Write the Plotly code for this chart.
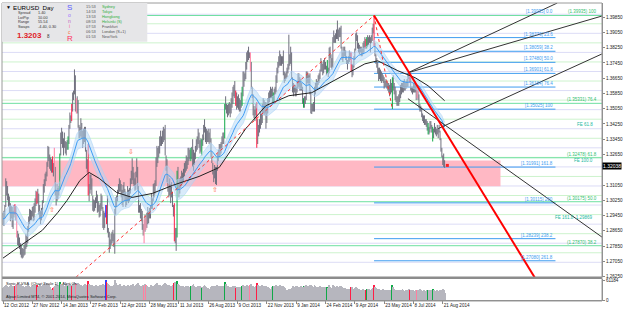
import plotly.graph_objects as go
import pandas as pd

# ---------------- data (prices in pips: 3075 -> 1.3075) ----------------
highs_pips = [
    # Oct 2012
    2960,2970,3000,3140,3125,3100,3060,3045,3010,2995,2990,2970,3000,3005,
    # Nov 2012
    2995,2960,2865,2850,2830,2800,2790,2775,2770,2790,2800,2850,2840,2890,2940,2980,2975,2970,2990,2995,3010,3035,
    # Dec 2012
    3075,3070,3085,3060,3000,2970,2985,3025,3110,3135,3165,3175,3225,3310,3305,3265,3250,3240,3255,3220,
    # Jan 2013
    3300,3200,3080,3110,3090,3100,3270,3380,3405,3385,3350,3380,3335,3330,3340,3360,3420,3485,3470,3530,3590,3600,
    # Feb 2013
    3711,3680,3560,3570,3550,3420,3410,3455,3430,3390,3400,3410,3410,3290,3240,3320,3110,3160,3160,3140,
    # Mar 2013
    3050,3030,3025,3040,3075,3055,3020,3000,3010,3060,3050,2990,2970,2960,3000,3000,3050,2880,2860,2820,2850,
    # Apr 2013
    2860,2870,2850,2980,3040,3050,3080,3110,3140,3130,3110,3080,3105,3120,3085,3070,3050,3100,3080,3090,3140,3180,
    # May 2013
    3245,3200,3170,3140,3175,3245,3200,3100,3000,3010,2980,2970,2900,2925,2950,2935,2960,2990,2970,2985,3000,3060,3035,
    # Jun 2013
    3110,3115,3130,3250,3310,3300,3310,3360,3390,3360,3390,3410,3400,3420,3260,3240,3160,3100,3140,3110,
    # Jul 2013
    3120,3070,3000,3010,2880,2880,3180,3200,3110,3140,3150,3180,3170,3190,3220,3230,3260,3250,3300,3300,3290,3300,3305,
    # Aug 2013
    3345,3290,3275,3310,3345,3360,3400,3380,3340,3350,3345,3370,3420,3450,3410,3400,3390,3400,3380,3400,3350,3280,
    # Sep 2013
    3220,3180,3210,3200,3200,3270,3290,3320,3320,3330,3360,3380,3380,3530,3570,3530,3525,3530,3540,3530,3560,
    # Oct 2013
    3590,3620,3630,3650,3600,3590,3570,3580,3560,3550,3590,3620,3700,3700,3690,3750,3800,3810,3830,3800,3800,3750,3620,
    # Nov 2013
    3580,3520,3500,3530,3540,3450,3420,3450,3490,3480,3530,3560,3550,3540,3540,3510,3560,3590,3600,3620,3610,
    # Dec 2013
    3620,3590,3610,3620,3680,3720,3750,3780,3810,3790,3780,3780,3810,3700,3690,3700,3720,3740,3893,3790,3830,
    # Jan 2014
    3800,3670,3640,3630,3630,3620,3650,3690,3690,3670,3660,3640,3620,3560,3570,3570,3700,3700,3690,3680,3690,3600,
    # Feb 2014
    3530,3530,3540,3620,3640,3660,3650,3680,3690,3710,3770,3750,3740,3760,3770,3750,3730,3760,3720,3825,
    # Mar 2014
    3830,3790,3770,3880,3915,3890,3900,3920,3967,3920,3930,3930,3940,3830,3800,3830,3830,3810,3780,3760,3780,
    # Apr 2014
    3810,3800,3800,3740,3740,3780,3820,3900,3905,3890,3850,3840,3830,3830,3820,3850,3860,3880,3870,3880,3890,3880,
    # May 2014
    3890,3880,3890,3930,3950,3993,3850,3790,3770,3750,3720,3720,3710,3700,3690,3680,3670,3650,3660,3650,3640,3640,
    # Jun 2014
    3630,3660,3640,3670,3680,3640,3620,3600,3570,3570,3580,3600,3630,3640,3640,3650,3660,3640,3650,3660,3690,
    # Jul 2014
    3700,3690,3670,3620,3620,3640,3640,3650,3630,3620,3610,3580,3530,3520,3510,3480,3470,3470,3450,3450,3440,3430,3410,
    # Aug 2014
    3440,3440,3420,3410,3400,3430,3410,3400,3420,3400,3420,3390,3350,3300,3260,3270,3235,
]
lows_pips = [
    2895,2890,2930,2990,3050,3025,2990,2960,2915,2930,2885,2875,2935,2950,
    2920,2830,2790,2785,2770,2740,2725,2720,2725,2735,2740,2770,2780,2800,2860,2900,2920,2920,2940,2915,2920,2960,
    2995,3005,3010,2950,2925,2900,2920,2945,3010,3065,3100,3125,3150,3200,3230,3190,3180,3170,3170,3150,
    3180,3050,2998,3020,3030,3050,3080,3260,3320,3300,3260,3300,3270,3260,3290,3290,3320,3400,3430,3440,3490,3550,
    3580,3490,3480,3480,3405,3350,3350,3360,3350,3300,3320,3330,3280,3190,3170,3050,3020,3060,3080,3050,
    2970,2965,2970,2985,3010,2960,2965,2935,2940,2970,2980,2880,2870,2880,2935,2900,2855,2830,2750,2770,2790,
    2800,2810,2780,2745,2950,2990,3020,3060,3070,3070,3040,3000,2990,3045,3020,2990,3000,3020,3010,3020,3060,3110,
    3130,3110,3100,3075,3080,3145,3080,2960,2960,2930,2915,2870,2840,2800,2860,2870,2880,2900,2905,2930,2930,2980,2980,
    3020,3040,3060,3100,3200,3220,3250,3270,3310,3310,3320,3330,3340,3260,3180,3120,3070,3040,3050,3010,
    3040,2990,2940,2810,2800,2760,2830,3080,3040,3060,3090,3100,3110,3120,3150,3170,3180,3190,3210,3230,3240,3230,3240,
    3200,3180,3210,3240,3280,3290,3320,3300,3270,3280,3260,3310,3340,3380,3330,3320,3330,3330,3320,3330,3250,3220,
    3160,3120,3140,3110,3105,3180,3230,3250,3260,3270,3290,3320,3320,3350,3500,3480,3460,3470,3480,3460,3480,
    3510,3530,3570,3560,3520,3500,3510,3500,3490,3490,3510,3520,3570,3620,3650,3660,3710,3750,3760,3770,3700,3610,3560,
    3470,3455,3440,3470,3300,3320,3360,3380,3400,3420,3430,3480,3470,3480,3400,3430,3480,3520,3540,3560,3560,
    3530,3530,3540,3580,3590,3640,3690,3720,3730,3730,3730,3740,3680,3640,3650,3660,3670,3690,3710,3730,3740,
    3660,3590,3570,3590,3570,3570,3590,3610,3620,3600,3600,3600,3530,3510,3510,3530,3550,3640,3630,3640,3580,3480,
    3477,3490,3490,3490,3580,3610,3610,3630,3640,3660,3700,3700,3680,3690,3710,3710,3680,3690,3670,3690,
    3770,3720,3710,3720,3850,3850,3850,3870,3870,3860,3880,3880,3820,3760,3750,3770,3780,3760,3740,3710,3740,
    3750,3760,3700,3670,3680,3720,3760,3810,3860,3820,3800,3790,3800,3780,3780,3790,3800,3820,3820,3820,3830,3840,
    3850,3800,3850,3860,3900,3830,3780,3740,3720,3690,3650,3660,3650,3640,3650,3640,3610,3620,3620,3610,3600,3590,
    3570,3580,3590,3503,3600,3580,3550,3540,3520,3520,3520,3540,3560,3580,3590,3590,3600,3600,3610,3620,3620,
    3660,3640,3600,3590,3580,3590,3590,3590,3550,3560,3550,3510,3490,3490,3460,3440,3430,3420,3420,3410,3390,3370,3370,
    3380,3400,3380,3333,3350,3380,3370,3360,3370,3350,3380,3340,3280,3250,3210,3200,3195,
]
volume_k = [
    38,41,44,47,43,40,36,39,42,45,41,44,39,42,
    46,49,52,47,43,45,48,41,44,40,37,42,39,45,43,34,38,41,44,47,43,46,
    42,45,39,44,48,41,38,43,46,49,44,47,52,50,45,39,33,35,37,31,
    40,44,49,46,42,45,55,50,47,43,46,41,44,48,45,42,47,50,46,43,48,51,
    56,52,49,47,53,49,44,46,43,41,45,48,50,47,44,58,49,46,43,45,
    42,40,43,45,47,44,41,43,46,42,45,48,44,47,61,55,52,49,45,43,41,
    44,41,46,60,52,47,44,42,45,48,44,41,43,46,42,40,43,45,41,44,43,46,
    47,50,44,42,45,48,51,46,42,44,41,43,46,44,48,45,42,39,36,40,43,45,42,
    44,42,45,50,52,47,43,45,41,44,42,46,49,53,48,45,43,46,44,42,
    41,44,46,53,55,48,58,50,45,42,44,41,43,40,38,41,43,40,42,39,41,44,43,
    46,48,42,40,38,41,43,40,42,39,36,41,44,46,42,40,38,36,34,33,39,42,
    40,43,41,44,47,45,41,43,40,42,44,41,43,55,49,44,41,43,40,38,41,
    39,42,40,44,37,39,41,38,40,37,39,42,45,43,41,44,46,43,42,41,45,48,44,
    43,41,40,44,52,47,42,39,41,43,45,42,44,40,43,41,39,37,33,35,38,
    40,42,44,41,45,43,41,44,46,42,40,38,43,41,37,30,27,29,33,35,31,
    36,40,43,41,39,42,44,41,38,40,42,39,41,44,40,42,46,43,41,44,47,45,
    42,39,41,46,44,40,38,41,39,42,40,37,39,41,38,36,39,41,38,45,
    40,38,37,47,43,39,41,38,44,41,40,43,42,39,37,38,36,35,34,33,35,
    34,32,40,41,35,33,36,40,38,34,32,33,30,29,31,33,32,30,31,33,35,34,
    33,31,32,34,36,47,41,37,34,32,33,35,31,30,32,33,31,30,29,28,30,31,
    30,32,31,45,40,33,30,29,31,28,30,32,31,29,33,30,28,27,29,30,31,
    33,31,30,28,29,30,28,27,29,31,30,32,34,31,28,27,29,30,28,26,29,30,31,
    32,30,29,33,31,30,28,27,29,26,28,30,31,32,34,30,20,
]
red_bars = [13, 37, 54, 75, 93, 113, 187, 254, 277, 380, 396, 405, 444]
pink_bars = [15, 56, 80, 154, 156, 270, 452]
green_bars = [62, 71, 190, 205, 217, 242, 261, 295, 328, 354, 397, 425, 464, 469]
blue_bars = [112]

date_tick_labels = ["12 Oct 2012", "27 Nov 2012", "14 Jan 2013", "27 Feb 2013", "12 Apr 2013",
                    "28 May 2013", "11 Jul 2013", "26 Aug 2013", "9 Oct 2013", "22 Nov 2013",
                    "9 Jan 2014", "24 Feb 2014", "9 Apr 2014", "23 May 2014", "8 Jul 2014", "21 Aug 2014"]
bars_per_label = 32

price_tick_labels = ["1.39850", "1.39050", "1.38250", "1.37450", "1.36650", "1.35850", "1.35050",
                     "1.34250", "1.33450", "1.32650", "1.31050", "1.30250", "1.29450",
                     "1.28650", "1.27850", "1.27050", "1.26250"]

round_levels = [1.27, 1.28, 1.29, 1.30, 1.31, 1.32, 1.33, 1.34, 1.35, 1.36, 1.37, 1.38, 1.39, 1.40]
half_levels = [1.2750, 1.2850, 1.2950, 1.3050, 1.3150, 1.3250, 1.3350, 1.3450, 1.3550, 1.3650,
               1.3750, 1.3850, 1.3950]

# long moving average
ma_bar = [0, 24, 43, 60, 70, 84, 94, 105, 124, 141, 163, 185, 214, 236, 265, 287, 312, 337, 355,
          374, 395, 409, 431, 450, 464, 482]
ma_price = [1.2722, 1.2805, 1.2868, 1.2962, 1.3025, 1.3129, 1.3171, 1.3140, 1.3066, 1.3040, 1.3061,
            1.3103, 1.3150, 1.3197, 1.3401, 1.3521, 1.3573, 1.3589, 1.3636, 1.3688, 1.3740, 1.3756,
            1.3704, 1.3667, 1.3625, 1.3547]

fib_ratios = ["0.0", "23.6", "38.2", "50.0", "61.8", "76.4", "100", "161.8", "200", "238.2", "261.8"]
fib_prices = [1.39935, 1.38776, 1.38059, 1.37480, 1.36901, 1.36184, 1.35025, 1.31991, 1.30115,
              1.28239, 1.27080]
fib_start_bar, fib_end_bar, fib_label_bar = 405, 425, 603
fib2_ratios = ["100", "76.4", "61.8", "50.0", "38.2"]
fib2_prices = [1.39935, 1.35331, 1.32478, 1.30175, 1.27870]
fib2_anchor_bar, fib2_anchor_price = -58, 1.20415
fe_labels = ["FE 61.8", "FE 100.0", "FE 161.8  1.29869"]
fe_prices = [1.3406, 1.3216, 1.2915]

zone_low, zone_high, zone_end_bar = 1.3098, 1.3234, 543
current_price = 1.32038

red_line = [(405, 1.39935), (620, 1.23101)]
black_lines = [[(442, 1.36933), (605, 1.40589)],
               [(442, 1.36933), (654, 1.39910)],
               [(475, 1.34008), (654, 1.37925)],
               [(442, 1.35575), (654, 1.28315)]]
fractal_marks = [(54, 1.2972, "⇧"), (140, 1.3276, "⇩"), (231, 1.3077, "⇧")]

sessions = [("15:53", "Sydney", "#2fae3a"), ("14:53", "Tokyo", "#2fae3a"),
            ("13:53", "Hongkong", "#2fae3a"), ("08:53", "Helsinki (S)", "#2fae3a"),
            ("07:53", "Frankfurt", "#555555"), ("06:53", "London (S+1)", "#555555"),
            ("01:53", "NewYork", "#555555")]
sonic_letters = [("S", "#5a5aff", 8, 6.5), ("o", "#a070ff", 5, 14.5), ("n", "#c060c0", 5, 20),
                 ("i", "#ff60a0", 5, 25.5), ("c", "#ff7040", 5, 31), ("R", "#ff3060", 8, 37.5)]

# ---------------- derived ----------------
n = min(len(highs_pips), len(lows_pips))
highs = [1 + p / 10000 for p in highs_pips[:n]]
lows = [1 + p / 10000 for p in lows_pips[:n]]
bars = list(range(n))

# ---------------- layout geometry (pixels -> paper) ----------------
W, H = 625, 311
ML, MR, MT, MB = 2, 20, 2, 10
PW, PH = W - ML - MR, H - MT - MB


def px(x):
    return (x - ML) / PW


def py(y):
    return (H - MB - y) / PH


FONT = "Liberation Sans"
fig = go.Figure()


def seg_trace(idx_list, color):
    xs, ys = [], []
    for i in idx_list:
        if i < n:
            xs += [i, i, None]
            ys += [lows[i], highs[i], None]
    return go.Scatter(x=xs, y=ys, mode="lines", line=dict(color=color, width=1),
                      hoverinfo="skip", showlegend=False)


special = set(red_bars + pink_bars + green_bars + blue_bars)
fig.add_trace(seg_trace([i for i in bars if i not in special], "#6f6f7d"))
fig.add_trace(seg_trace(red_bars, "#ff1e46"))
fig.add_trace(seg_trace(pink_bars, "#ff7fa0"))
fig.add_trace(seg_trace(green_bars, "#10a848"))
fig.add_trace(seg_trace(blue_bars, "#3040ff"))

# Sonic R dragon (EMA 34 of high / low / median)
s_hi = pd.Series(highs).ewm(span=34, adjust=False).mean()
s_lo = pd.Series(lows).ewm(span=34, adjust=False).mean()
s_mid = pd.Series([(h + l) / 2 for h, l in zip(highs, lows)]).ewm(span=34, adjust=False).mean()
fig.add_trace(go.Scatter(x=bars, y=s_hi, mode="lines", line=dict(color="rgba(170,210,245,0.55)", width=1),
                         hoverinfo="skip", showlegend=False))
fig.add_trace(go.Scatter(x=bars, y=s_lo, mode="lines", line=dict(color="rgba(170,210,245,0.55)", width=1),
                         fill="tonexty", fillcolor="rgba(180,215,246,0.5)", hoverinfo="skip", showlegend=False))
fig.add_trace(go.Scatter(x=bars, y=s_mid, mode="lines", line=dict(color="#3d9cf5", width=1),
                         hoverinfo="skip", showlegend=False))
fig.add_trace(go.Scatter(x=ma_bar, y=ma_price, mode="lines", line=dict(color="#222222", width=1),
                         hoverinfo="skip", showlegend=False))

# current price marker
fig.add_trace(go.Scatter(x=[n + 2], y=[current_price + 0.0004], mode="markers",
                         marker=dict(color="#ff2020", size=3, symbol="square"),
                         hoverinfo="skip", showlegend=False))

# volume
vcols = []
for i in range(len(volume_k)):
    if i in red_bars:
        vcols.append("#ff1e46")
    elif i in pink_bars:
        vcols.append("#ff7fa0")
    elif i in green_bars:
        vcols.append("#10a848")
    elif i in blue_bars:
        vcols.append("#3040ff")
    else:
        vcols.append("#b6b6be")
fig.add_trace(go.Bar(x=list(range(len(volume_k))), y=[v * 1000 for v in volume_k], marker_color=vcols,
                     marker_line_width=0, width=0.95, yaxis="y2", hoverinfo="skip", showlegend=False))

shapes = []
# pink zone
shapes.append(dict(type="rect", xref="x", yref="y", x0=-2, x1=zone_end_bar, y0=zone_low, y1=zone_high,
                   fillcolor="#ffb8c4", line=dict(width=0), layer="below"))
for lv in round_levels:
    shapes.append(dict(type="line", xref="x domain", yref="y", x0=0, x1=1, y0=lv, y1=lv,
                       line=dict(color="#dcdcf6", width=1), layer="below"))
for lv in half_levels:
    shapes.append(dict(type="line", xref="x domain", yref="y", x0=0, x1=1, y0=lv, y1=lv,
                       line=dict(color="#cdf3cd", width=1), layer="below"))
for lv in fib2_prices:
    shapes.append(dict(type="line", xref="x domain", yref="y", x0=0, x1=1, y0=lv, y1=lv,
                       line=dict(color="#6ee0a0", width=1), layer="below"))
for lv in fib_prices[1:]:
    shapes.append(dict(type="line", xref="x", yref="y", x0=fib_start_bar, x1=fib_label_bar, y0=lv, y1=lv,
                       line=dict(color="#3e9cf0", width=1), layer="below"))
# fib anchor dotted lines
shapes.append(dict(type="line", xref="x", yref="y", x0=fib2_anchor_bar, y0=fib2_anchor_price,
                   x1=fib_start_bar, y1=fib_prices[0], line=dict(color="#ff3030", width=1, dash="dot")))
shapes.append(dict(type="line", xref="x", yref="y", x0=fib_start_bar, y0=fib_prices[0],
                   x1=fib_end_bar, y1=fib_prices[6], line=dict(color="#ff3030", width=1, dash="dot")))
for (a, b) in black_lines:
    shapes.append(dict(type="line", xref="x", yref="y", x0=a[0], y0=a[1], x1=b[0], y1=b[1],
                       line=dict(color="#333333", width=1)))
shapes.append(dict(type="line", xref="x", yref="y", x0=red_line[0][0], y0=red_line[0][1],
                   x1=red_line[1][0], y1=red_line[1][1], line=dict(color="#ff0000", width=2)))
# pane separator + frame
shapes.append(dict(type="rect", xref="paper", yref="paper", x0=0, x1=1, y0=py(279), y1=py(276.5),
                   fillcolor="#8c8c8c", line=dict(width=0)))
shapes.append(dict(type="rect", xref="paper", yref="paper", x0=0, x1=1, y0=0, y1=1,
                   line=dict(color="#9a9a9a", width=1)))
# info box
shapes.append(dict(type="rect", xref="paper", yref="paper", x0=px(2), x1=px(148), y0=py(41), y1=py(2),
                   fillcolor="#e6e6e8", line=dict(width=0)))

ann = []


def text(x, y, s, size, color, bold=False, anchor="left"):
    ann.append(dict(x=x, y=y, xref="paper", yref="paper",
                    text=("<b>%s</b>" % s) if bold else s, showarrow=False, xanchor=anchor, yanchor="middle",
                    font=dict(family=FONT, size=size, color=color)))


# fib labels
for r, p in zip(fib_ratios, fib_prices):
    ann.append(dict(x=fib_label_bar, y=p, xref="x", yref="y", text="[%.5f] %s" % (p, r), showarrow=False,
                    xanchor="right", yanchor="bottom", yshift=-1,
                    font=dict(family=FONT, size=4.5, color="#3e9cf0")))
for r, p in zip(fib2_ratios, fib2_prices):
    ann.append(dict(x=651, y=p, xref="x", yref="y", text="(%.5f) %s" % (p, r), showarrow=False,
                    xanchor="right", yanchor="bottom", yshift=-1,
                    font=dict(family=FONT, size=4.5, color="#30c070")))
for s, p in zip(fe_labels, fe_prices):
    ann.append(dict(x=646, y=p, xref="x", yref="y", text=s, showarrow=False, xanchor="right",
                    yanchor="bottom", yshift=-1, font=dict(family=FONT, size=4.5, color="#20b8a0")))
for b, p, s in fractal_marks:
    ann.append(dict(x=b, y=p, xref="x", yref="y", text=s, showarrow=False,
                    font=dict(family="DejaVu Sans", size=7, color="#ff6a3a")))

# current price box
ann.append(dict(x=px(605), y=current_price, xref="paper", yref="y", text="1.32038", showarrow=False,
                xanchor="left", bgcolor="#000000", borderpad=0,
                font=dict(family=FONT, size=5, color="#ffffff")))

# info panel
text(px(4), py(6), "▼", 5, "#000000")
text(px(11), py(6.5), "EURUSD  Day", 6.2, "#000000")
for k, (lab, val) in enumerate([("Spread", "1.40"), ("LotPip", "10.00"), ("Range", "55.54"),
                                ("Swaps", "-4.40, 0.30")]):
    text(px(16), py(12 + 4.6 * k), lab, 3.8, "#333333")
    text(px(36), py(12 + 4.6 * k), val, 3.8, "#333333")
text(px(15), py(35), "1.3203", 8, "#e02028", bold=True)
text(px(45), py(35.5), "8", 4.5, "#333333")
for ch, col, size, yy in sonic_letters:
    text(px(70), py(yy), ch, size, col, anchor="center")
for k, (t, city, col) in enumerate(sessions):
    text(px(84), py(5.5 + 5 * k), t, 3.9, "#555555")
    text(px(100), py(5.5 + 5 * k), city, 3.9, col)

# sub window labels
text(px(4), py(283), "Sonic R VSA  (Chart Scale 1)    Alert On", 4, "#222222")
text(px(4), py(296), "Alpari Limited MT4, © 2001-2014, MetaQuotes Software Corp.", 4, "#222222")

fig.update_layout(
    width=W, height=H, margin=dict(l=ML, r=MR, t=MT, b=MB),
    paper_bgcolor="#ffffff", plot_bgcolor="#ffffff", showlegend=False, bargap=0,
    shapes=shapes, annotations=ann,
    xaxis=dict(range=[-1.09, 653.8], anchor="y2", showgrid=False, zeroline=False,
               tickvals=[k * bars_per_label for k in range(len(date_tick_labels))], ticktext=date_tick_labels,
               tickangle=0, ticks="outside", ticklen=3, tickcolor="#888888", ticklabelposition="outside right",
               tickfont=dict(family=FONT, size=4.6, color="#222222"), showline=True, linecolor="#888888"),
    yaxis=dict(domain=[py(277), 1], range=[1.26226, 1.40589], side="right", showgrid=False, zeroline=False,
               tickvals=[float(t) for t in price_tick_labels], ticktext=price_tick_labels,
               ticks="outside", ticklen=2, tickcolor="#888888",
               tickfont=dict(family=FONT, size=4.6, color="#222222"), showline=True, linecolor="#888888"),
    yaxis2=dict(domain=[py(300), py(279)], range=[0, 64200], side="right", showgrid=False, zeroline=False,
                tickvals=[0, 61184], ticktext=["0", "61184"], ticks="outside", ticklen=2, tickcolor="#888888",
                tickfont=dict(family=FONT, size=4.6, color="#222222"), showline=True, linecolor="#888888",
                anchor="x"),
)

fig.write_html("out.html")
